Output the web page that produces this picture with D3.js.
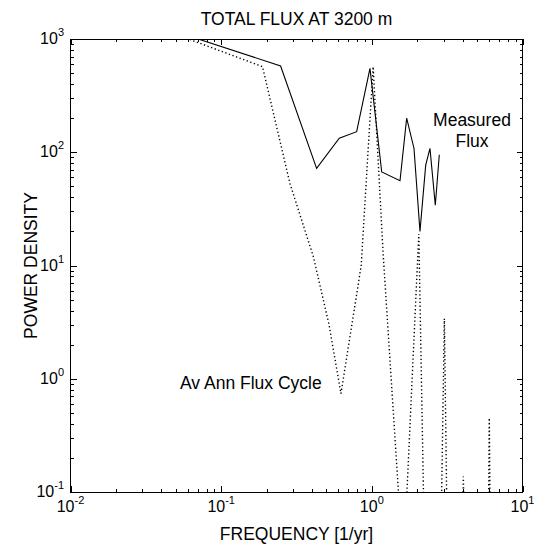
<!DOCTYPE html>
<html>
<head>
<meta charset="utf-8">
<script src="https://cdn.jsdelivr.net/npm/d3@7"></script>
<style>
    body { margin: 0; background: #fff; }
    svg { display: block; font-family: "Liberation Sans", Arial, Helvetica, sans-serif; }
</style>
</head>
<body>
<div id="chart"></div>
<script>
//Spectrum data
var measuredFreq = [0.05, 0.248, 0.43, 0.608, 0.793, 0.972, 1.163, 1.538, 1.703, 1.905, 2.087, 2.278, 2.432, 2.638, 2.804];
var measuredPower = [1160, 578, 72, 133, 152, 551, 67, 56, 200, 108, 20, 77, 108, 34, 95];

var cycleFreq = [0.04, 0.188, 0.286, 0.409, 0.52, 0.624, 0.85, 1.02, 1.19, 1.62, 2.05, 2.25, 2.8, 3.03, 3.2, 3.85, 4.05, 4.25, 5.06, 5.85, 6.02, 6.2];
var cyclePower = [1230, 570, 53, 12, 3.0, 0.74, 10, 570, 12.4, 0.021, 19, 0.02, 0.004, 3.4, 0.012, 0.003, 0.137, 0.003, 0.02, 0.005, 0.45, 0.005];

var xDecades = [0.01, 0.1, 1, 10];
var xExponents = ["-2", "-1", "0", "1"];
var yDecades = [0.1, 1, 10, 100, 1000];
var yExponents = ["-1", "0", "1", "2", "3"];

var svgWidth = 534;
var svgHeight = 548;
var plot = { left: 70.5, right: 522.5, top: 39, bottom: 492 };
var labelFont = "17.5px";

var svg = d3.select("#chart")
    .append("svg")
    .attr("width", svgWidth)
    .attr("height", svgHeight);

var x = d3.scaleLog().domain([0.01, 10]).range([plot.left, plot.right]);
var y = d3.scaleLog().domain([0.1, 1000]).range([plot.bottom, plot.top]);

// minor ticks 2..9 in every decade
function minorTicks(scale) {
    return scale.ticks().filter(function (d) {
        var m = d / Math.pow(10, Math.floor(Math.log10(d) + 1e-9));
        return Math.abs(m - 1) > 1e-6;
    });
}

function drawAxis(axisFn, scale, translate, values, size) {
    svg.append("g")
        .attr("transform", "translate(" + translate + ")")
        .call(axisFn(scale).tickValues(values).tickSize(size).tickFormat(""))
        .call(function (g) {
            g.select(".domain").remove();
            g.selectAll("line").attr("stroke", "#000").attr("shape-rendering", "crispEdges");
        });
}

//ticks pointing inward on all four sides
drawAxis(d3.axisBottom, x, [0, plot.bottom], xDecades, -6);
drawAxis(d3.axisBottom, x, [0, plot.bottom], minorTicks(x), -3);
drawAxis(d3.axisTop, x, [0, plot.top], xDecades, -6);
drawAxis(d3.axisTop, x, [0, plot.top], minorTicks(x), -3);
drawAxis(d3.axisLeft, y, [plot.left, 0], yDecades, -6);
drawAxis(d3.axisLeft, y, [plot.left, 0], minorTicks(y), -3);
drawAxis(d3.axisRight, y, [plot.right, 0], yDecades, -6);
drawAxis(d3.axisRight, y, [plot.right, 0], minorTicks(y), -3);

svg.append("rect")
    .attr("x", plot.left)
    .attr("y", plot.top)
    .attr("width", plot.right - plot.left)
    .attr("height", plot.bottom - plot.top)
    .attr("fill", "none")
    .attr("stroke", "#000")
    .attr("shape-rendering", "crispEdges");

//Tick labels as 10 with superscript
var xLabels = svg.selectAll("xLabels")
    .data(xDecades)
    .enter()
    .append("text")
    .attr("x", function (d) { return x(d); })
    .attr("y", 512)
    .attr("text-anchor", "middle")
    .attr("font-size", "16px");
xLabels.append("tspan").text("10");
xLabels.append("tspan")
    .attr("dy", -8)
    .attr("font-size", "11px")
    .text(function (d, i) { return xExponents[i]; });

var yLabels = svg.selectAll("yLabels")
    .data(yDecades)
    .enter()
    .append("text")
    .attr("x", 64)
    .attr("y", function (d) { return y(d) + 5; })
    .attr("text-anchor", "end")
    .attr("font-size", "16px");
yLabels.append("tspan").text("10");
yLabels.append("tspan")
    .attr("dy", -8)
    .attr("font-size", "11px")
    .text(function (d, i) { return yExponents[i]; });

//Lines, clipped to the axes box
svg.append("clipPath")
    .attr("id", "plot-clip")
    .append("rect")
    .attr("x", plot.left)
    .attr("y", plot.top)
    .attr("width", plot.right - plot.left)
    .attr("height", plot.bottom - plot.top);

var line = d3.line()
    .x(function (d) { return x(d[0]); })
    .y(function (d) { return y(d[1]); });

var lines = svg.append("g").attr("clip-path", "url(#plot-clip)");

lines.append("path")
    .datum(d3.zip(cycleFreq, cyclePower))
    .attr("d", line)
    .attr("fill", "none")
    .attr("stroke", "#000")
    .attr("stroke-width", 1.4)
    .attr("stroke-dasharray", "1.3,2.5");

lines.append("path")
    .datum(d3.zip(measuredFreq, measuredPower))
    .attr("d", line)
    .attr("fill", "none")
    .attr("stroke", "#000")
    .attr("stroke-width", 1.1);

//Titles and annotations
svg.append("text")
    .attr("x", (plot.left + plot.right) / 2)
    .attr("y", 25)
    .attr("text-anchor", "middle")
    .attr("font-size", labelFont)
    .text("TOTAL FLUX AT 3200 m");

svg.append("text")
    .attr("x", (plot.left + plot.right) / 2)
    .attr("y", 539.5)
    .attr("text-anchor", "middle")
    .attr("font-size", labelFont)
    .text("FREQUENCY [1/yr]");

svg.append("text")
    .attr("transform", "translate(37," + (plot.top + plot.bottom) / 2 + ") rotate(-90)")
    .attr("text-anchor", "middle")
    .attr("font-size", labelFont)
    .text("POWER DENSITY");

svg.append("text")
    .attr("x", 472)
    .attr("y", 126)
    .attr("text-anchor", "middle")
    .attr("font-size", labelFont)
    .text("Measured");

svg.append("text")
    .attr("x", 472)
    .attr("y", 146.5)
    .attr("text-anchor", "middle")
    .attr("font-size", labelFont)
    .text("Flux");

svg.append("text")
    .attr("x", 180)
    .attr("y", 389)
    .attr("font-size", labelFont)
    .text("Av Ann Flux Cycle");
</script>
</body>
</html>
